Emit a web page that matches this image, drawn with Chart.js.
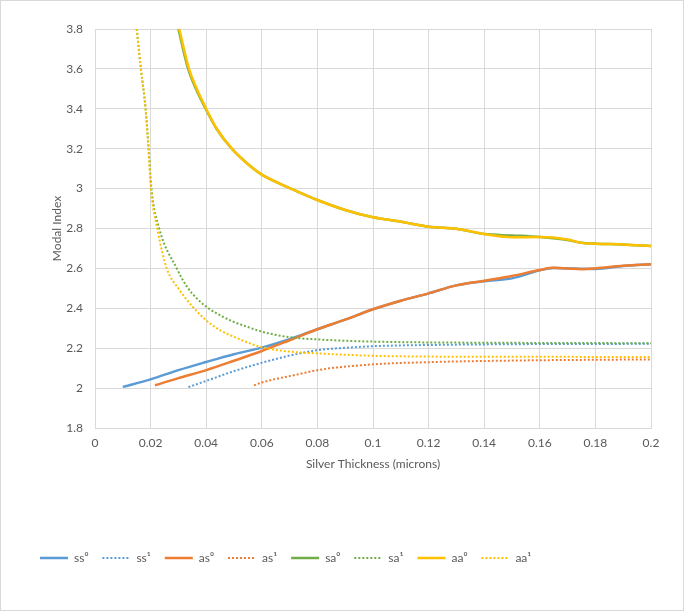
<!DOCTYPE html>
<html>
<head>
<meta charset="utf-8">
<script src="https://cdn.jsdelivr.net/npm/chart.js@4/dist/chart.umd.min.js"></script>
<style>
  html, body { margin: 0; padding: 0; background: #ffffff; }
  #wrap { width: 684px; height: 611px; position: relative; }
</style>
</head>
<body>
<div id="wrap"><canvas id="c" width="684" height="611"></canvas></div>
<script>
// ---- Data ----
const seriesNames = ['ss\u2070', 'ss\u00b9', 'as\u2070', 'as\u00b9', 'sa\u2070', 'sa\u00b9', 'aa\u2070', 'aa\u00b9'];

const ss0X = [0.01, 0.02, 0.03, 0.04, 0.05, 0.06, 0.07, 0.08, 0.09, 0.1, 0.11, 0.12, 0.13, 0.14, 0.15, 0.16, 0.165, 0.17, 0.18, 0.19, 0.2];
const ss0Y = [2.006, 2.044, 2.09, 2.131, 2.17, 2.203, 2.245, 2.295, 2.343, 2.395, 2.438, 2.475, 2.515, 2.535, 2.55, 2.59, 2.602, 2.6, 2.597, 2.612, 2.621];

const ss1X = [0.0336, 0.04, 0.05, 0.06, 0.07, 0.08, 0.09, 0.1, 0.12, 0.15, 0.2];
const ss1Y = [2.005, 2.036, 2.085, 2.127, 2.163, 2.19, 2.202, 2.21, 2.216, 2.22, 2.222];

const as0X = [0.0216, 0.03, 0.04, 0.05, 0.06, 0.07, 0.08, 0.09, 0.1, 0.11, 0.12, 0.13, 0.14, 0.15, 0.16, 0.165, 0.17, 0.175, 0.18, 0.19, 0.2];
const as0Y = [2.014, 2.05, 2.09, 2.137, 2.186, 2.24, 2.295, 2.343, 2.395, 2.438, 2.475, 2.515, 2.538, 2.562, 2.592, 2.603, 2.6, 2.596, 2.6, 2.613, 2.621];

const as1X = [0.0572, 0.06, 0.0737, 0.08, 0.1, 0.12, 0.15, 0.2];
const as1Y = [2.014, 2.028, 2.071, 2.09, 2.119, 2.13, 2.138, 2.144];

const sa0X = [0.0300, 0.0335, 0.0363, 0.0398, 0.0437, 0.0492, 0.0558, 0.06, 0.0705, 0.08, 0.09, 0.1, 0.11, 0.12, 0.13, 0.14, 0.15, 0.16, 0.17, 0.175, 0.18, 0.19, 0.2];
const sa0Y = [3.8, 3.6, 3.5, 3.4, 3.3, 3.2, 3.113, 3.07, 3.0, 2.943, 2.893, 2.856, 2.834, 2.809, 2.799, 2.772, 2.765, 2.757, 2.742, 2.728, 2.724, 2.72, 2.712];

const sa1X = [0.015, 0.0165, 0.0182, 0.0193, 0.0203, 0.0231, 0.0294, 0.033, 0.0366, 0.0408, 0.045, 0.0497, 0.055, 0.06, 0.07, 0.08, 0.1, 0.15, 0.2];
const sa1Y = [3.8, 3.6, 3.4, 3.2, 3.0, 2.8, 2.6, 2.51, 2.45, 2.4, 2.365, 2.333, 2.306, 2.283, 2.255, 2.244, 2.233, 2.227, 2.225];

const aa0X = [0.0303, 0.0338, 0.0366, 0.04, 0.0438, 0.0492, 0.0558, 0.06, 0.0705, 0.08, 0.09, 0.1, 0.11, 0.12, 0.13, 0.14, 0.15, 0.16, 0.17, 0.175, 0.18, 0.19, 0.2];
const aa0Y = [3.8, 3.6, 3.5, 3.4, 3.3, 3.2, 3.113, 3.07, 3.0, 2.943, 2.893, 2.856, 2.834, 2.809, 2.799, 2.772, 2.756, 2.757, 2.745, 2.728, 2.724, 2.72, 2.712];

const aa1X = [0.015, 0.0165, 0.0182, 0.0192, 0.0201, 0.0224, 0.0258, 0.03, 0.035, 0.04, 0.045, 0.05, 0.06, 0.07, 0.08, 0.1, 0.12, 0.15, 0.2];
const aa1Y = [3.8, 3.6, 3.4, 3.2, 3.0, 2.8, 2.6, 2.5, 2.41, 2.34, 2.29, 2.257, 2.205, 2.183, 2.174, 2.162, 2.158, 2.157, 2.156];

const xTickValues = [0, 0.02, 0.04, 0.06, 0.08, 0.1, 0.12, 0.14, 0.16, 0.18, 0.2];
const xTickLabels = ['0', '0.02', '0.04', '0.06', '0.08', '0.1', '0.12', '0.14', '0.16', '0.18', '0.2'];
const yTickValues = [1.8, 2.0, 2.2, 2.4, 2.6, 2.8, 3.0, 3.2, 3.4, 3.6, 3.8];
const yTickLabels = ['1.8', '2', '2.2', '2.4', '2.6', '2.8', '3', '3.2', '3.4', '3.6', '3.8'];

const xTitle = 'Silver Thickness (microns)';
const yTitle = 'Modal Index';

// ---- Build chart ----
const pts = (xs, ys) => xs.map((x, i) => ({ x: x, y: ys[i] }));
const seriesX = [ss0X, ss1X, as0X, as1X, sa0X, sa1X, aa0X, aa1X];
const seriesY = [ss0Y, ss1Y, as0Y, as1Y, sa0Y, sa1Y, aa0Y, aa1Y];
const colors = ['#5B9BD5', '#5B9BD5', '#ED7D31', '#ED7D31', '#70AD47', '#70AD47', '#FFC000', '#FFC000'];

const datasets = seriesNames.map((name, i) => {
  const dotted = i % 2 === 1;
  return {
    label: name,
    data: pts(seriesX[i], seriesY[i]),
    showLine: true,
    borderColor: colors[i],
    backgroundColor: colors[i],
    borderWidth: dotted ? 2 : 2.5,
    borderDash: dotted ? [2, 2] : [],
    pointRadius: 0,
    pointHoverRadius: 0,
    cubicInterpolationMode: 'monotone',
    order: 7 - i,
    clip: 2
  };
});

const txt = '#595959';
const grid = '#d9d9d9';
const fam = 'Lato, "Liberation Sans", sans-serif';

const borderPlugin = {
  id: 'outerBorder',
  afterDraw(chart) {
    const ctx = chart.ctx;
    ctx.save();
    ctx.strokeStyle = '#d9d9d9';
    ctx.lineWidth = 1;
    ctx.strokeRect(0.5, 0.5, chart.width - 1, chart.height - 1);
    ctx.restore();
  }
};

new Chart(document.getElementById('c'), {
  type: 'scatter',
  data: { datasets: datasets },
  plugins: [borderPlugin],
  options: {
    responsive: false,
    animation: false,
    events: [],
    layout: { padding: { left: 26, right: 33, top: 29, bottom: 37 } },
    plugins: {
      tooltip: { enabled: false },
      legend: {
        position: 'bottom',
        align: 'start',
        labels: {
          usePointStyle: true,
          pointStyle: 'line',
          pointStyleWidth: 28,
          padding: 14,
          color: txt,
          font: { family: fam, size: 12 },
          generateLabels: (chart) => chart.data.datasets.map((ds, i) => ({
            text: ds.label,
            fillStyle: ds.borderColor,
            strokeStyle: ds.borderColor,
            lineWidth: ds.borderWidth,
            lineDash: ds.borderDash,
            lineCap: 'butt',
            pointStyle: 'line',
            fontColor: txt,
            hidden: false,
            datasetIndex: i
          }))
        }
      }
    },
    scales: {
      x: {
        type: 'linear',
        min: 0,
        max: 0.2,
        afterBuildTicks: (s) => { s.ticks = xTickValues.map(v => ({ value: v })); },
        afterFit: (s) => { s.height = 110; },
        ticks: {
          color: txt,
          font: { family: fam, size: 12 },
          padding: 8,
          maxRotation: 0,
          autoSkip: false,
          callback: (v, i) => xTickLabels[i]
        },
        grid: { color: grid, drawTicks: false },
        border: { color: grid },
        title: {
          display: true,
          text: xTitle,
          color: txt,
          font: { family: fam, size: 12 },
          padding: { top: 4, bottom: 66.8 }
        }
      },
      y: {
        type: 'linear',
        min: 1.8,
        max: 3.8,
        afterBuildTicks: (s) => { s.ticks = yTickValues.map(v => ({ value: v })); },
        afterFit: (s) => { s.width = 69; },
        ticks: {
          color: txt,
          font: { family: fam, size: 12 },
          padding: 12,
          autoSkip: false,
          callback: (v, i) => yTickLabels[i]
        },
        grid: { color: grid, drawTicks: false },
        border: { color: grid },
        title: {
          display: true,
          text: yTitle,
          color: txt,
          font: { family: fam, size: 12 },
          padding: { top: 23.8, bottom: 4 }
        }
      }
    }
  }
});
</script>
</body>
</html>
